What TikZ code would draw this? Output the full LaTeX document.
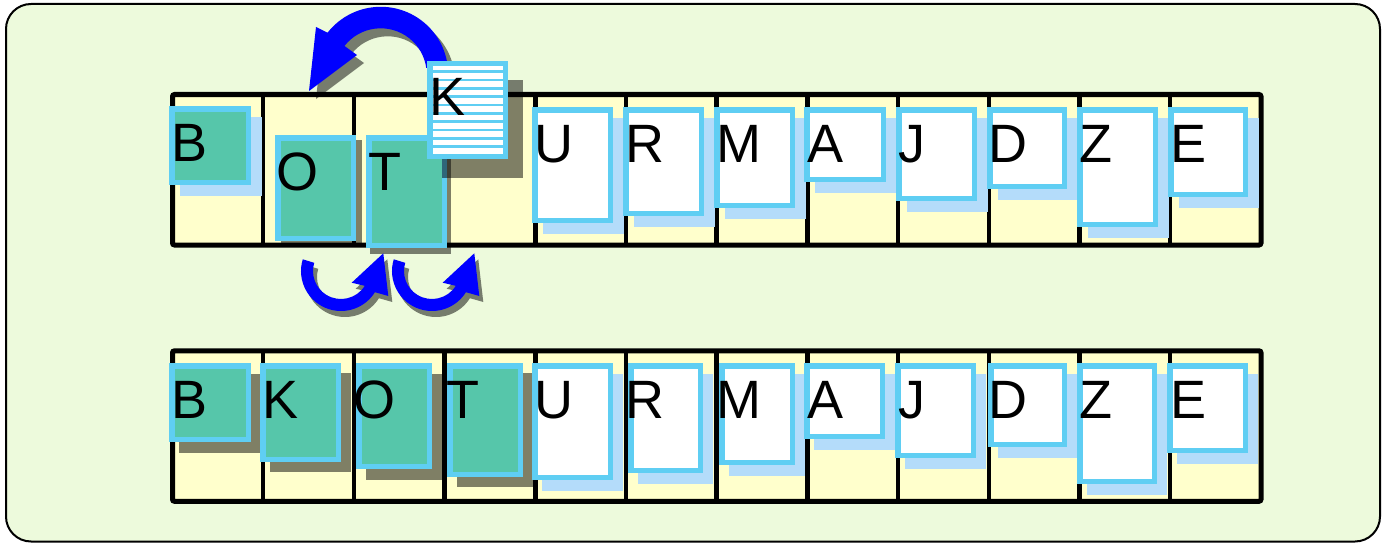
\documentclass[tikz,border=0pt]{standalone}
\usepackage{fontspec}
\setmainfont{Liberation Sans}
\definecolor{bgc}{RGB}{237,250,220}
\definecolor{yel}{RGB}{255,255,204}
\definecolor{grn}{RGB}{86,198,170}
\definecolor{cyn}{RGB}{95,206,243}
\definecolor{lbl}{RGB}{180,220,250}
\definecolor{blu}{RGB}{0,0,255}
\newcommand\crd[9]{%
  \fill[#7] ({#2+#8},{#3+#9}) rectangle ++(#4,#5);
  \node[card, fill=#6, minimum width=#4pt-5.5pt, minimum height=#5pt-5.5pt] (#1) at ({#2+2.75},{#3+2.75}) {};
}
\newcommand\ltr[4]{\node[letter] (#1) at (#2,#3) {#4};}
\newcommand\bigarrow[1]{%
  \fill[#1] ({380.7+67.5*cos(-8)},{74.3+67.5*sin(-8)}) arc[start angle=-8, end angle=-142, radius=67.5]
    -- (316,27) -- (309,91) -- (357,55)
    -- ({380.7+46*cos(-142)},{74.3+46*sin(-142)}) arc[start angle=-142, end angle=-8, radius=46] -- cycle;
}
\newcommand\smallarrow[2]{%
  \fill[#1] ({#2+341+40*cos(197)},{271+40*sin(197)}) arc[start angle=197, end angle=32, radius=40]
    -- ({#2+388.3},296) -- ({#2+383.3},253.3) -- ({#2+351.7},282.7)
    -- ({#2+341+28*cos(32)},{271+28*sin(32)}) arc[start angle=32, end angle=197, radius=28] -- cycle;
}
\begin{document}
\begin{tikzpicture}[x=1pt,y=-1pt,
  card/.style={draw=cyn, line width=5.5pt, anchor=north west, inner sep=0pt, outer sep=0pt},
  letter/.style={anchor=base west, inner sep=0pt, outer sep=0pt, font=\fontsize{54}{60}\selectfont},
  lbshadow/.style={fill=lbl},
  gshadow/.style={fill=black, fill opacity=0.5},
  arraybox/.style={draw=black, line width=5pt, fill=yel, rounded corners=2pt, anchor=north west,
    inner sep=0pt, outer sep=0pt, minimum width=1088.5pt, minimum height=150.5pt},
  divider/.style={draw=black, line width=4.5pt},
  frame/.style={draw=black, line width=2pt, fill=bgc, rounded corners=25pt},
  stripe/.style={draw=cyn, line width=2.5pt},
]
\useasboundingbox (0,0) rectangle (1382,543);
\draw[frame] (6,4) rectangle (1380,541.5);

% arrays
\node[arraybox] (toparr) at (172.5,94.5) {};
\foreach \i in {1,...,11} \draw[divider] ({172.5+90.7*\i},94.5) -- ({172.5+90.7*\i},245);
\node[arraybox] (botarr) at (172.5,350.8) {};
\foreach \i in {1,...,11} \draw[divider] ({172.5+90.7*\i},350.8) -- ({172.5+90.7*\i},501.3);

% top row
\crd{tB}{169}{106}{82}{79}{grn}{lbshadow}{11}{11}
\ltr{tBl}{171}{161}{B}
\crd{tO}{275}{135}{81}{106}{grn}{gshadow}{6}{5}
\ltr{tOl}{276}{190}{O}
\crd{tT}{366}{135}{81}{113}{grn}{gshadow}{4}{6}
\ltr{tTl}{368}{190}{T}

% big arrow
\bigarrow{gshadow, shift={(7,8)}}
\bigarrow{fill=blu}

\crd{tK}{427}{61}{81}{98}{white}{gshadow}{15}{19}
\foreach \k in {0,...,9} \draw[stripe] (432.5,{71.7+8.33*\k}) -- (502.5,{71.7+8.33*\k});
\ltr{tKl}{429}{115}{K}

\crd{tU}{532}{107}{81}{116}{white}{lbshadow}{11}{11}
\ltr{tUl}{534}{162}{U}
\crd{tR}{623}{107}{81}{109}{white}{lbshadow}{11}{11}
\ltr{tRl}{625}{162}{R}
\crd{tM}{714}{107}{81}{101}{white}{lbshadow}{11}{11}
\ltr{tMl}{716}{162}{M}
\crd{tA}{804}{107}{82}{75}{white}{lbshadow}{11}{11}
\ltr{tAl}{807}{162}{A}
\crd{tJ}{896}{107}{81}{94}{white}{lbshadow}{11}{11}
\ltr{tJl}{898}{162}{J}
\crd{tD}{987}{107}{80}{82}{white}{lbshadow}{11}{11}
\ltr{tDl}{988}{162}{D}
\crd{tZ}{1077}{107}{81}{120}{white}{lbshadow}{11}{11}
\ltr{tZl}{1079}{162}{Z}
\crd{tE}{1168}{107}{80}{90}{white}{lbshadow}{11}{11}
\ltr{tEl}{1170}{162}{E}

% small arrows
\smallarrow{gshadow, shift={(4,6)}}{0}
\smallarrow{fill=blu}{0}
\smallarrow{gshadow, shift={(4,6)}}{91}
\smallarrow{fill=blu}{91}

% bottom row
\crd{bB}{169}{363}{82}{79}{grn}{gshadow}{10}{11}
\ltr{bBl}{171}{418}{B}
\crd{bK}{260}{363}{81}{99}{grn}{gshadow}{10}{10}
\ltr{bKl}{262}{418}{K}
\crd{bO}{356}{363}{76}{106}{grn}{gshadow}{10}{11}
\ltr{bOl}{353}{418}{O}
\crd{bT}{447}{363}{76}{114}{grn}{gshadow}{10}{10}
\ltr{bTl}{446}{418}{T}
\crd{bU}{532}{363}{81}{117}{white}{lbshadow}{10}{11}
\ltr{bUl}{534}{418}{U}
\crd{bR}{628}{363}{75}{110}{white}{lbshadow}{10}{11}
\ltr{bRl}{625}{418}{R}
\crd{bM}{719}{363}{76}{102}{white}{lbshadow}{10}{11}
\ltr{bMl}{716}{418}{M}
\crd{bA}{804}{363}{81}{76}{white}{lbshadow}{10}{11}
\ltr{bAl}{807}{418}{A}
\crd{bJ}{895}{363}{81}{95}{white}{lbshadow}{10}{11}
\ltr{bJl}{898}{418}{J}
\crd{bD}{988}{363}{79}{84}{white}{lbshadow}{10}{11}
\ltr{bDl}{988}{418}{D}
\crd{bZ}{1077}{363}{80}{121}{white}{lbshadow}{10}{11}
\ltr{bZl}{1079}{418}{Z}
\crd{bE}{1167}{363}{81}{90}{white}{lbshadow}{10}{11}
\ltr{bEl}{1170}{418}{E}
\end{tikzpicture}
\end{document}
